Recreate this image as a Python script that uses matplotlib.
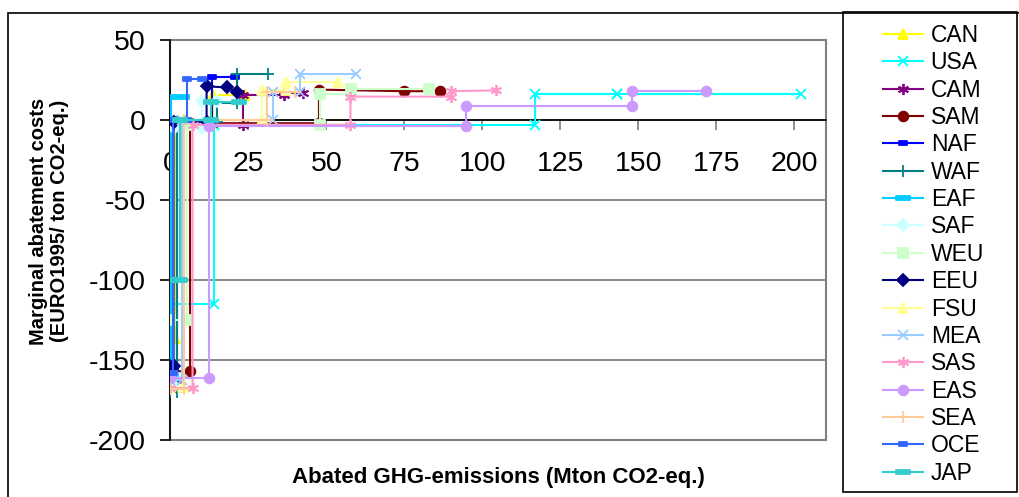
import numpy as np
import matplotlib.pyplot as plt
from matplotlib.patches import Rectangle
from matplotlib.path import Path

plt.rcParams['font.family'] = ['Liberation Sans', 'DejaVu Sans']
plt.rcParams['axes.unicode_minus'] = False

W, H = 1020, 497

# marginal abatement cost steps per region: cumulative abatement (Mton) and cost (EURO/ton)
regions = ['CAN', 'USA', 'CAM', 'SAM', 'NAF', 'WAF', 'EAF', 'SAF', 'WEU',
           'EEU', 'FSU', 'MEA', 'SAS', 'EAS', 'SEA', 'OCE', 'JAP']

can_x = [0, 1.5, 1.5, 13.7, 13.7, 23.9]
can_y = [-136, -136, -2, -2, 15.6, 15.6]
usa_x = [0, 14, 14, 117, 117, 143, 143, 202]
usa_y = [-115, -115, -3, -3, 16, 16, 16.5, 16.5]
cam_x = [0, 2, 2, 23.2, 23.2, 36.4, 36.4, 42.5]
cam_y = [-162.5, -162.5, -3, -3, 15.6, 15.6, 17, 17]
sam_x = [0, 6.3, 6.3, 47.6, 47.6, 75, 86.5]
sam_y = [-157, -157, -2, -2, 19, 18, 18]
naf_x = [0, 1, 1, 13.2, 13.2, 20.7]
naf_y = [-155, -155, -1, -1, 27, 27]
waf_x = [0, 2, 2, 15, 15, 21.4, 21.4, 31.3]
waf_y = [-170, -170, -1, -1, 10.6, 10.6, 28.5, 28.5]
eaf_x = [0, 0.3, 0.3, 3.6]
eaf_y = [-160, -160, 14.6, 14.6]
saf_x = [0, 1.2, 1.2, 10, 10, 15]
saf_y = [-166, -166, -5, -5, 12, 12]
weu_x = [0, 5.2, 5.2, 48, 48, 58, 58, 82.8]
weu_y = [-125, -125, -3, -3, 16.5, 16.5, 19.5, 19.5]
eeu_x = [0, 1, 1, 11.6, 11.6, 18, 21.4]
eeu_y = [-154, -154, -1, -1, 21, 20.4, 17.7]
fsu_x = [0, 4, 4, 29.2, 29.2, 37, 37, 53.7]
fsu_y = [-167, -167, 0, 0, 18.5, 18.5, 24, 24]
mea_x = [0, 3.6, 3.6, 33, 33, 41.5, 41.5, 59.6]
mea_y = [-162.5, -162.5, 0, 0, 17.7, 17.7, 29, 29]
sas_x = [0, 7.1, 7.1, 57.7, 57.7, 90, 90, 104.4]
sas_y = [-167.5, -167.5, -3, -3, 14.6, 14.6, 18, 18.5]
eas_x = [0, 12.3, 12.3, 94.7, 94.7, 148, 148, 171.6]
eas_y = [-161, -161, -4, -4, 9, 9, 18, 18]
sea_x = [0, 4.5, 4.5, 31, 31, 40]
sea_y = [-168, -168, 0, 0, 17.5, 17.5]
oce_x = [0, 0.8, 0.8, 5.2, 5.2, 10]
oce_y = [-158, -158, 0, 0, 25.6, 25.6]
jap_x = [0, 3, 3, 13, 13, 22]
jap_y = [-100, -100, 0, 0, 11.5, 11.5]

series_x = [can_x, usa_x, cam_x, sam_x, naf_x, waf_x, eaf_x, saf_x, weu_x,
            eeu_x, fsu_x, mea_x, sas_x, eas_x, sea_x, oce_x, jap_x]
series_y = [can_y, usa_y, cam_y, sam_y, naf_y, waf_y, eaf_y, saf_y, weu_y,
            eeu_y, fsu_y, mea_y, sas_y, eas_y, sea_y, oce_y, jap_y]

x_ticks = [0, 25, 50, 75, 100, 125, 150, 175, 200]
y_ticks = [-200, -150, -100, -50, 0, 50]

# excel-like dash markers
short_dash = Path([(-0.5, -0.22), (0.5, -0.22), (0.5, 0.22), (-0.5, 0.22), (-0.5, -0.22)], closed=True)
long_dash = Path([(-0.5, -0.14), (0.5, -0.14), (0.5, 0.14), (-0.5, 0.14), (-0.5, -0.14)], closed=True)
asterisk = (6, 2, 0)

colors = ['#FFFF00', '#00FFFF', '#800080', '#800000', '#0000FF', '#008080',
          '#00CCFF', '#CCFFFF', '#CCFFCC', '#000080', '#FFFF99', '#99CCFF',
          '#FF99CC', '#CC99FF', '#FFCC99', '#3366FF', '#33CCCC']
markers = ['^', 'x', asterisk, 'o', short_dash, '+', long_dash, 'D', 's',
           'D', '^', 'x', asterisk, 'o', '+', short_dash, long_dash]
sizes = [7, 7, 8, 7, 6, 8, 10, 6, 7, 6, 7, 7, 8, 7, 8, 6, 10]

fig = plt.figure(figsize=(W / 100, H / 100), dpi=100)
ax = fig.add_axes([170.4 / W, 1 - 440 / H, (825.7 - 170.4) / W, 400 / H])

for name, xs, ys, c, m, s in zip(regions, series_x, series_y, colors, markers, sizes):
    ax.plot(xs, ys, color=c, lw=1.5, marker=m, ms=s, mfc=c, mec=c, mew=1.3,
            label=name, zorder=3)

ax.set_xlim(0, 210)
ax.set_ylim(-200, 50)
ax.set_xticks(x_ticks)
ax.set_yticks(y_ticks)
ax.yaxis.grid(True, color='#808080', lw=1.3)
ax.set_axisbelow(True)

for side in ['top', 'right']:
    ax.spines[side].set_visible(False)
ax.spines['left'].set_color('black')
ax.spines['left'].set_linewidth(1.2)
ax.spines['bottom'].set_position(('data', 0))
ax.spines['bottom'].set_color('black')
ax.spines['bottom'].set_linewidth(1.2)
ax.add_patch(Rectangle((0, 0), 1, 1, transform=ax.transAxes, fill=False,
                       ec='#808080', lw=1.5, zorder=1, clip_on=False))

ax.tick_params(axis='x', direction='out', length=7.5, width=1.2, color='#808080',
               labelsize=20.5, pad=15)
ax.tick_params(axis='y', direction='out', length=7.5, width=1.2, color='black',
               labelsize=20.5, pad=10)

fig.text(49 / W, 1 - 221 / H, 'Marginal abatement costs\n(EURO1995/ ton CO2-eq.)',
         rotation=90, ha='center', va='center', fontsize=14.5, fontweight='bold',
         linespacing=1.15)
fig.text(498 / W, 1 - 478 / H, 'Abated GHG-emissions (Mton CO2-eq.)',
         ha='center', va='center', fontsize=16, fontweight='bold')

# chart area border and legend box
fig.patches.append(Rectangle((8 / W, -0.1), 1.2, 1 - 13 / H + 0.1, transform=fig.transFigure,
                             fill=False, ec='black', lw=1.2))
fig.patches.append(Rectangle((843 / W, 1 - 492 / H), (1017 - 843) / W, (492 - 12) / H,
                             transform=fig.transFigure, fill=False, ec='black', lw=1.2,
                             facecolor='white'))

ax.legend(loc='upper left', bbox_to_anchor=(883 / W, 1 - 24 / H),
          bbox_transform=fig.transFigure, frameon=False, fontsize=16.5,
          handlelength=1.75, handletextpad=0.33, labelspacing=0.19,
          borderpad=0, borderaxespad=0)

fig.savefig('out.png', dpi=100)
